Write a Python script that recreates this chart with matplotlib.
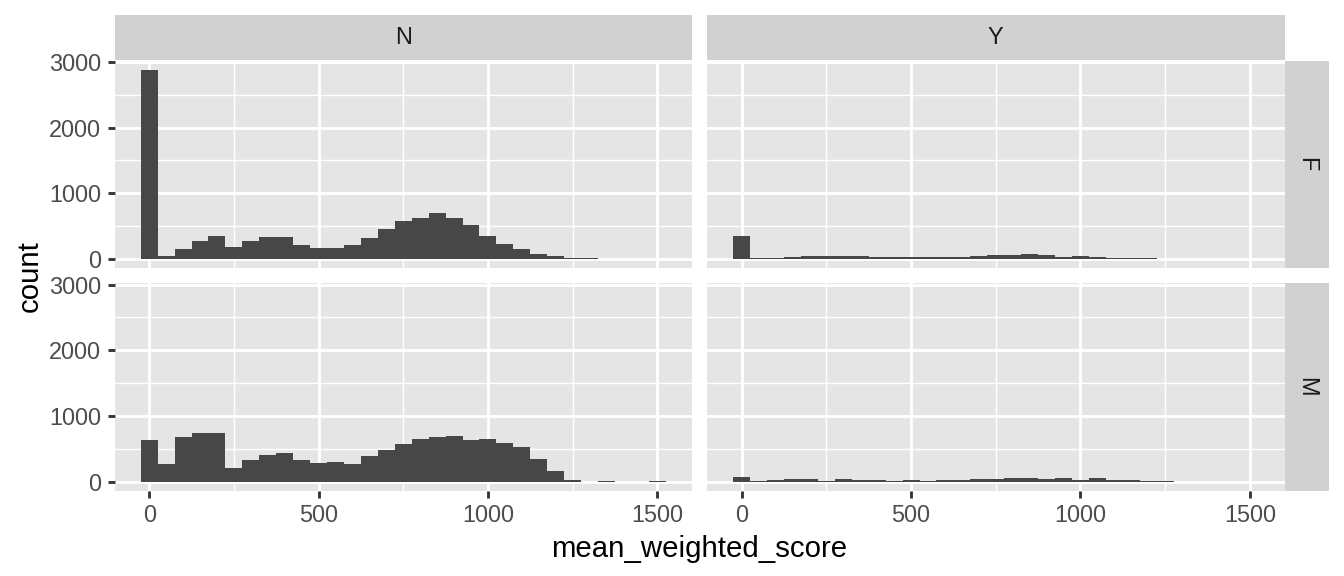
import matplotlib
matplotlib.use('Agg')
import matplotlib.pyplot as plt
import numpy as np

plt.rcParams['font.family'] = ['Liberation Sans', 'DejaVu Sans']

# bin centres (binwidth 50)
bin_centers = list(range(0, 1501, 50))
binwidth = 50

counts_N_F = [2879, 45, 152, 273, 348, 182, 273, 333, 333, 212, 167, 167, 212, 318, 455,
              576, 621, 697, 621, 515, 348, 227, 152, 76, 45, 7, 3, 1, 1, 1, 1]
counts_N_M = [626, 263, 672, 732, 732, 202, 323, 399, 429, 323, 278, 293, 263, 384, 475,
              566, 641, 672, 687, 626, 641, 581, 520, 338, 157, 20, 0, 4, 0, 0, 5]
counts_Y_F = [343, 2, 10, 25, 40, 40, 40, 40, 25, 25, 25, 25, 25, 25, 40,
              55, 55, 70, 55, 25, 40, 25, 10, 3, 2, 0, 0, 0, 0, 0, 0]
counts_Y_M = [76, 10, 30, 45, 45, 15, 45, 30, 30, 15, 30, 15, 30, 30, 45,
              45, 61, 61, 45, 61, 30, 61, 30, 30, 5, 4, 0, 0, 0, 0, 0]

col_labels = ['N', 'Y']
row_labels = ['F', 'M']
x_ticks = [0, 500, 1000, 1500]
x_minor = [250, 750, 1250]
y_ticks = [0, 1000, 2000, 3000]
y_minor = [500, 1500, 2500]

data = {('N', 'F'): counts_N_F, ('N', 'M'): counts_N_M,
        ('Y', 'F'): counts_Y_F, ('Y', 'M'): counts_Y_M}

W, H, DPI = 1344, 576, 192
fig = plt.figure(figsize=(W / DPI, H / DPI), dpi=DPI)

def rect(x0, y0, x1, y1):
    return [x0 / W, 1 - y1 / H, (x1 - x0) / W, (y1 - y0) / H]

col_x = [(114.5, 692), (707, 1284.5)]
row_y = [(60.5, 268), (283, 491)]

PANEL = '#E5E5E5'
STRIP = '#D1D1D1'
BAR = '#474747'

ymax = max(max(v) for v in data.values())
xlo = bin_centers[0] - binwidth / 2
xhi = bin_centers[-1] + binwidth / 2
xpad = 0.05 * (xhi - xlo)
lw_major = 1.07
lw_minor = 0.53

for ci, cl in enumerate(col_labels):
    for ri, rl in enumerate(row_labels):
        x0, x1 = col_x[ci]
        y0, y1 = row_y[ri]
        ax = fig.add_axes(rect(x0, y0, x1, y1))
        ax.set_facecolor(PANEL)
        for s in ax.spines.values():
            s.set_visible(False)
        ax.set_xlim(xlo - xpad, xhi + xpad)
        ax.set_ylim(-0.05 * ymax, 1.05 * ymax)
        ax.set_xticks(x_ticks)
        ax.set_yticks(y_ticks)
        ax.set_xticks(x_minor, minor=True)
        ax.set_yticks(y_minor, minor=True)
        ax.grid(which='major', color='white', linewidth=lw_major)
        ax.grid(which='minor', color='white', linewidth=lw_minor)
        ax.set_axisbelow(True)
        ax.tick_params(which='minor', length=0)
        ax.tick_params(which='major', length=2.75, width=1.07, color='#333333',
                       labelsize=8.8, labelcolor='#4D4D4D', pad=2.2)
        ax.bar(bin_centers, data[(cl, rl)], width=binwidth, color=BAR,
               edgecolor='none', linewidth=0)
        if ci != 0:
            ax.tick_params(axis='y', left=False, labelleft=False)
        if ri != len(row_labels) - 1:
            ax.tick_params(axis='x', bottom=False, labelbottom=False)
        # top strip
        if ri == 0:
            sax = fig.add_axes(rect(x0, 15, x1, 60))
            sax.set_facecolor(STRIP)
            sax.set_xticks([]); sax.set_yticks([])
            for s in sax.spines.values():
                s.set_visible(False)
            sax.text(0.5, 0.5, cl, ha='center', va='center', fontsize=8.8,
                     color='#1A1A1A', transform=sax.transAxes)
        # right strip
        if ci == len(col_labels) - 1:
            sax = fig.add_axes(rect(1285, y0, 1329, y1))
            sax.set_facecolor(STRIP)
            sax.set_xticks([]); sax.set_yticks([])
            for s in sax.spines.values():
                s.set_visible(False)
            sax.text(0.5, 0.5, rl, ha='center', va='center', fontsize=8.8,
                     color='#1A1A1A', rotation=-90, transform=sax.transAxes)

fig.text((114.5 + 1284.5) / 2 / W, 1 - 549 / H, 'mean_weighted_score',
         ha='center', va='center', fontsize=11, color='black')
fig.text(30 / W, 1 - ((60.5 + 491) / 2) / H, 'count', ha='center', va='center',
         fontsize=11, color='black', rotation=90)

fig.savefig('out.png', dpi=DPI, facecolor='white')
